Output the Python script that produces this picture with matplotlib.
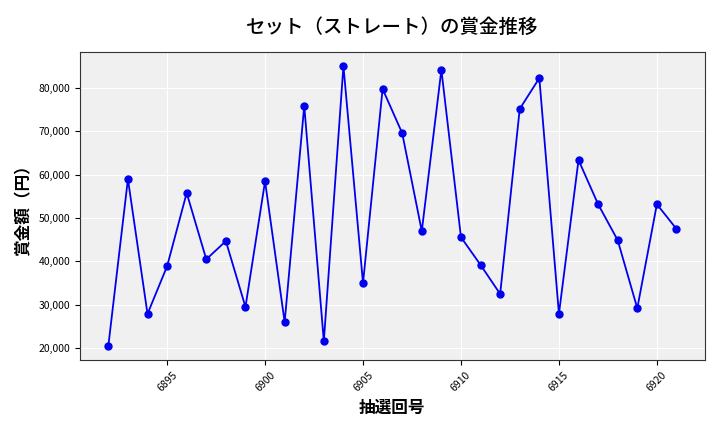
import matplotlib
matplotlib.use("Agg")
import matplotlib.pyplot as plt
from matplotlib.ticker import FuncFormatter

plt.rcParams['font.family'] = ['Noto Sans CJK JP', 'DejaVu Sans']

draws = list(range(6892, 6922))
prizes = [20500, 59000, 27900, 38900, 55800, 40500, 44700, 29500, 58500, 26000,
          75900, 21600, 85100, 35000, 79800, 69600, 47000, 84200, 45600, 39200,
          32500, 75200, 82300, 27900, 63400, 53200, 44900, 29200, 53200, 47500]

fig = plt.figure(figsize=(7.2, 4.32), dpi=100)
ax = fig.add_axes([0.111, 0.1667, 0.868, 0.713])
ax.set_facecolor('#f0f0f0')
ax.grid(True, color='white', linewidth=0.8)
ax.set_axisbelow(True)
ax.plot(draws, prizes, color='#0000ee', marker='o', markersize=5, linewidth=1.3)
ax.yaxis.set_major_formatter(FuncFormatter(lambda v, p: f'{int(v):,}'))
ax.tick_params(axis='x', labelrotation=45, labelsize=7.5)
ax.tick_params(axis='y', labelsize=7.5)
for s in ax.spines.values():
    s.set_color('#333333')
ax.set_title('セット（ストレート）の賞金推移', fontsize=14, fontweight='medium', pad=14)
ax.set_xlabel('抽選回号', fontsize=12, fontweight='bold')
ax.set_ylabel('賞金額（円）', fontsize=12, fontweight='bold')
fig.savefig('out.png', dpi=100)
